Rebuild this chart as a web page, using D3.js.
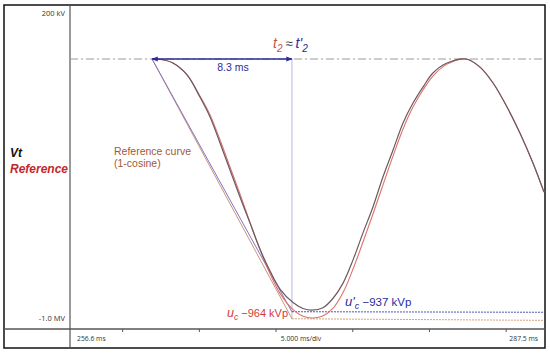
<!DOCTYPE html>
<html><head><meta charset="utf-8">
<script src="https://cdn.jsdelivr.net/npm/d3@7"></script>
<style>body{margin:0;background:#fff}svg{display:block}</style>
</head><body><svg id="c" width="550" height="353"></svg>
<script>
// ---- data (time in ms, voltage in kV) ----
const xDomain = [256.6, 287.5];
const yDomain = [-1000, 200];
const xTickValues = [260, 265, 270, 275, 280, 285];
const xLabels = ["256.6 ms", "5.000 ms/div", "287.5 ms"];
const yLabels = ["200 kV", "-1.0 MV"];
const vtCurve = [[261.95,0],[262.47,-1],[263.31,-15],[264.23,-59],[265.07,-141],[265.73,-215],[266.38,-311],[267.03,-411],[267.68,-511],[268.33,-607],[268.99,-705],[269.64,-785],[270.29,-852],[271.14,-902],[271.79,-924],[272.38,-930],[273.09,-921],[273.74,-887],[274.40,-830],[275.05,-744],[275.70,-644],[276.35,-548],[277.00,-437],[277.66,-337],[278.31,-237],[278.96,-163],[279.61,-104],[280.26,-52],[281.18,-15],[282.42,0],[283.33,-30],[284.18,-89],[285.09,-178],[285.93,-274],[286.78,-385],[287.50,-493]];
const refCurve = [[261.95,0],[262.47,-1],[263.31,-15],[264.23,-59],[265.07,-137],[265.73,-207],[266.38,-300],[267.03,-400],[267.68,-500],[268.33,-604],[268.99,-707],[269.64,-795],[270.29,-868],[271.14,-928],[271.79,-953],[272.38,-959],[273.03,-953],[273.74,-924],[274.40,-865],[275.05,-778],[275.70,-678],[276.35,-574],[277.00,-467],[277.66,-359],[278.31,-259],[278.96,-178],[279.61,-115],[280.26,-63],[281.18,-19],[282.42,0],[283.33,-30],[284.18,-89],[285.09,-178],[285.93,-274],[286.78,-385],[287.50,-493]];
const linMeasSlope = [[261.95,0],[271.07,-937]];
const linMeasFlat = [[271.07,-936],[287.5,-938]];
const linRefSlope = [[261.95,0],[271.07,-962]];
const linRefFlat = [[271.07,-962],[287.5,-968]];
const t0 = 261.95, t2 = 271.07;
const ucPeak = -964, ucpPeak = -937;

// ---- drawing ----
const svg = d3.select("#c");
const x = d3.scaleLinear().domain(xDomain).range([70, 544]);
const y = d3.scaleLinear().domain(yDomain).range([329, 5]);
const line = d3.line().x(d => x(d[0])).y(d => y(d[1]));
const smooth = d3.line().x(d => x(d[0])).y(d => y(d[1])).curve(d3.curveCatmullRom.alpha(0.5));

const defs = svg.append("defs");
defs.append("marker").attr("id","ah").attr("viewBox","0 0 10 10").attr("refX",9).attr("refY",5)
  .attr("markerWidth",4.5).attr("markerHeight",4.5).attr("orient","auto-start-reverse")
  .append("path").attr("d","M0,1 L10,5 L0,9 z").attr("fill","#2b2b9b");

// frame
svg.append("rect").attr("x",4).attr("y",5).attr("width",541).attr("height",343)
  .attr("fill","none").attr("stroke","#111").attr("stroke-width",1.5);
svg.append("line").attr("x1",70).attr("x2",70).attr("y1",5).attr("y2",348).attr("stroke","#555").attr("stroke-width",1.2);
svg.append("line").attr("x1",4).attr("x2",545).attr("y1",329).attr("y2",329).attr("stroke","#555").attr("stroke-width",1.5);

// x axis ticks
const xAxis = d3.axisBottom(x).tickValues(xTickValues).tickSize(3).tickFormat("");
const gx = svg.append("g").attr("transform","translate(0,329)").call(xAxis);
gx.select(".domain").remove();
gx.selectAll("line").attr("stroke","#555");

const small = "Open Sans, Liberation Sans, sans-serif";
svg.append("text").attr("x",x(xDomain[0])+7).attr("y",341).attr("font-family",small).attr("font-size",6.8).attr("fill","#333").text(xLabels[0]);
svg.append("text").attr("x",301).attr("y",341).attr("text-anchor","middle").attr("font-family",small).attr("font-size",6.8).attr("fill","#333").text(xLabels[1]);
svg.append("text").attr("x",x(xDomain[1])-6).attr("y",341).attr("text-anchor","end").attr("font-family",small).attr("font-size",6.8).attr("fill","#333").text(xLabels[2]);
svg.append("text").attr("x",65).attr("y",y(yDomain[1])+11).attr("text-anchor","end").attr("font-family",small).attr("font-size",7.5).attr("fill","#333").text(yLabels[0]);
svg.append("text").attr("x",65).attr("y",y(yDomain[0])-8).attr("text-anchor","end").attr("font-family",small).attr("font-size",7.5).attr("fill","#333").text(yLabels[1]);

// zero reference dash-dot
svg.append("line").attr("x1",x(xDomain[0])).attr("x2",x(xDomain[1])).attr("y1",y(0)).attr("y2",y(0))
  .attr("stroke","#9a9a9a").attr("stroke-width",1).attr("stroke-dasharray","8,3,2,3");

// vertical t2 line
svg.append("line").attr("x1",x(t2)).attr("x2",x(t2)).attr("y1",y(0)).attr("y2",y(ucPeak))
  .attr("stroke","#b4badb").attr("stroke-width",1);

// linear approximations
svg.append("path").attr("d",line(linRefSlope)).attr("fill","none").attr("stroke","#c99478").attr("stroke-width",1);
svg.append("path").attr("d",line(linRefFlat)).attr("fill","none").attr("stroke","#d4a27c").attr("stroke-width",1).attr("stroke-dasharray","2,1");
svg.append("path").attr("d",line(linMeasSlope)).attr("fill","none").attr("stroke","#8474c4").attr("stroke-width",1);
svg.append("path").attr("d",line(linMeasFlat)).attr("fill","none").attr("stroke","#4656b4").attr("stroke-width",1).attr("stroke-dasharray","2,1");

// curves
svg.append("path").attr("d",smooth(refCurve)).attr("fill","none").attr("stroke","#e07070").attr("stroke-width",1.1);
svg.append("path").attr("d",smooth(vtCurve)).attr("fill","none").attr("stroke","#6a5a5e").attr("stroke-width",1.2);

// arrow
svg.append("line").attr("x1",x(t0)).attr("x2",x(t2)).attr("y1",y(0)).attr("y2",y(0))
  .attr("stroke","#2b2b9b").attr("stroke-width",1.4)
  .attr("marker-start","url(#ah)").attr("marker-end","url(#ah)");
svg.append("text").attr("x",(x(t0)+x(t2))/2+11).attr("y",y(0)+12).attr("text-anchor","middle")
  .attr("font-family","Liberation Sans, Arial, sans-serif").attr("font-size",10.5).attr("fill","#2b2b9b").text("8.3 ms");

// t2 ≈ t'2
const tt = svg.append("text").attr("x",273).attr("y",48).attr("font-family","Liberation Sans, Arial, sans-serif").attr("font-size",14).attr("font-style","italic");
tt.append("tspan").attr("fill","#c4573c").text("t");
tt.append("tspan").attr("fill","#c4573c").attr("font-size",10).attr("dy",4).text("2");
tt.append("tspan").attr("fill","#333").attr("font-style","normal").attr("font-size",13).attr("dy",-4).attr("dx",3).text("≈");
tt.append("tspan").attr("fill","#2b2b9b").attr("dx",3).text("t'");
tt.append("tspan").attr("fill","#2b2b9b").attr("font-size",10).attr("dy",4).text("2");

// left labels
svg.append("text").attr("x",10).attr("y",157).attr("font-family","Liberation Sans, Arial, sans-serif").attr("font-size",12).attr("font-weight","bold").attr("font-style","italic").attr("fill","#111").text("Vt");
svg.append("text").attr("x",10).attr("y",173).attr("font-family","Liberation Sans, Arial, sans-serif").attr("font-size",12).attr("font-weight","bold").attr("font-style","italic").attr("fill","#c0282d").text("Reference");

// reference curve label
svg.append("text").attr("x",114).attr("y",155).attr("font-family","Liberation Sans, Arial, sans-serif").attr("font-size",10.5).attr("fill","#a0583a").text("Reference curve");
svg.append("text").attr("x",114).attr("y",167).attr("font-family","Liberation Sans, Arial, sans-serif").attr("font-size",10.5).attr("fill","#a0583a").text("(1-cosine)");

// peak labels
const uc = svg.append("text").attr("x",227).attr("y",317).attr("font-family","Liberation Sans, Arial, sans-serif").attr("font-size",11).attr("fill","#d23a3a");
uc.append("tspan").attr("font-style","italic").attr("font-size",12.5).text("u");
uc.append("tspan").attr("font-style","italic").attr("font-size",8.5).attr("dy",3).text("c");
uc.append("tspan").attr("dy",-3).text(" \u2212964 kVp");
const ucp = svg.append("text").attr("x",345).attr("y",306).attr("font-family","Liberation Sans, Arial, sans-serif").attr("font-size",11.5).attr("fill","#2b2b9b");
ucp.append("tspan").attr("font-style","italic").attr("font-size",13).text("u'");
ucp.append("tspan").attr("font-style","italic").attr("font-size",9).attr("dy",3).text("c");
ucp.append("tspan").attr("dy",-3).text("  \u2212937 kVp");
</script></body></html>
